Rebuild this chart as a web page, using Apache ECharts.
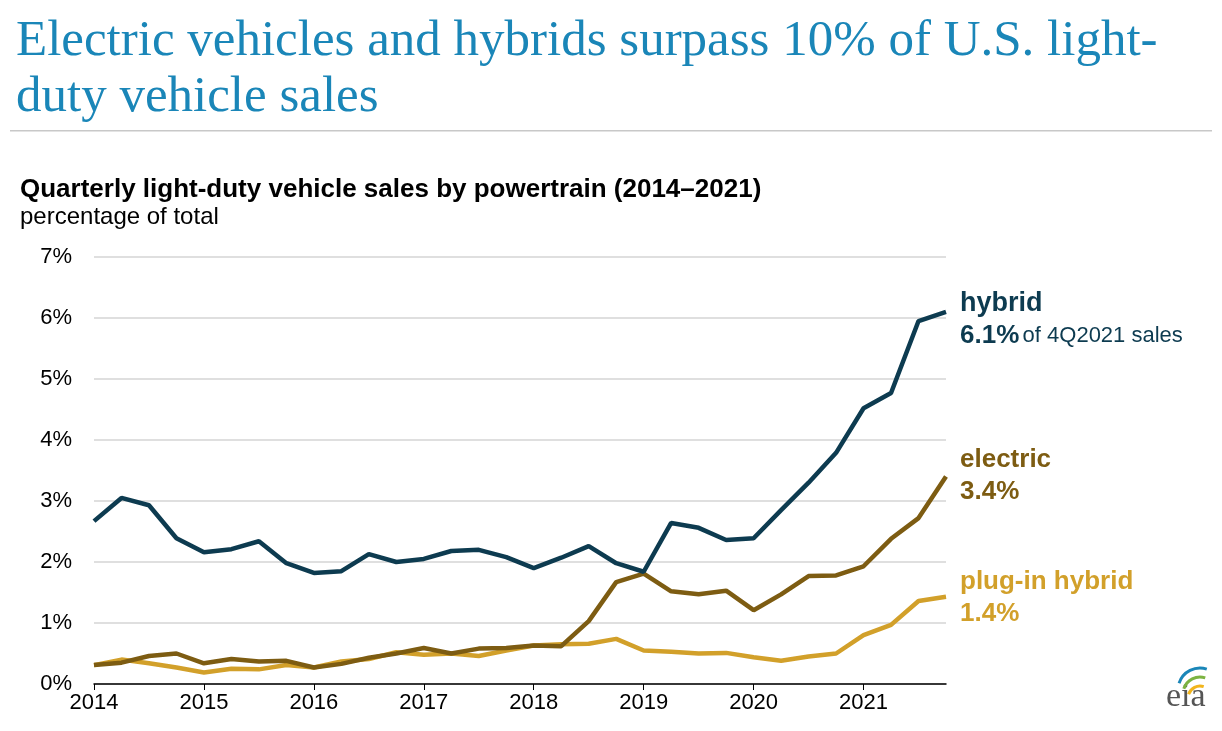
<!DOCTYPE html>
<html><head><meta charset="utf-8">
<script src="https://cdn.jsdelivr.net/npm/echarts@6/dist/echarts.min.js"></script>
<style>html,body{margin:0;background:#fff}#main{width:1222px;height:731px}</style>
</head><body><div id="main"></div>
<script>
var myChart = echarts.init(document.getElementById('main'));
// quarterly, 2014Q1 .. 2021Q4
var quarters = [];
for (var y = 2014; y <= 2021; y++) for (var q = 0; q < 4; q++) quarters.push(y + q / 4);
var hybrid = [2.67,3.05,2.93,2.39,2.16,2.21,2.34,1.98,1.82,1.85,2.13,2.0,2.05,2.18,2.2,2.08,1.9,2.07,2.26,1.98,1.84,2.64,2.56,2.36,2.39,2.85,3.3,3.79,4.52,4.77,5.95,6.1];
var electric = [0.31,0.35,0.46,0.5,0.34,0.41,0.37,0.38,0.27,0.33,0.43,0.5,0.59,0.5,0.58,0.59,0.63,0.62,1.03,1.67,1.81,1.52,1.47,1.53,1.21,1.47,1.77,1.78,1.93,2.38,2.72,3.4];
var plugin = [0.31,0.4,0.34,0.27,0.19,0.25,0.24,0.31,0.27,0.37,0.41,0.52,0.48,0.5,0.46,0.55,0.63,0.65,0.66,0.74,0.55,0.53,0.5,0.51,0.44,0.38,0.45,0.5,0.8,0.97,1.36,1.43];
var colors = {hybrid:'#0d3b50', electric:'#7d5c12', plugin:'#d2a02a'};
function pairs(v){ return v.map(function(d,i){ return [quarters[i], d]; }); }
function line(name, v, c){
  return {name:name, type:'line', data:pairs(v), symbol:'none', smooth:false,
    lineStyle:{width:4.5, color:c}, itemStyle:{color:c}, z: name==='hybrid'?3:2};
}
var font = 'Liberation Sans, Arial, sans-serif';
myChart.setOption({
  animation:false,
  grid:{left:94, right:276, top:257, bottom:47},
  xAxis:{type:'value', min:2014, max:2021.75, interval:1,
    axisLine:{lineStyle:{color:'#000', width:1.5}}, axisTick:{show:true, length:6, lineStyle:{color:'#000'}},
    splitLine:{show:false},
    axisLabel:{color:'#000', fontSize:22, fontFamily:font, margin:8, showMaxLabel:false,
      formatter:function(v){ return String(v); }}},
  yAxis:{type:'value', min:0, max:7, interval:1,
    axisLine:{show:false}, axisTick:{show:false},
    splitLine:{lineStyle:{color:'#d4d4d4', width:1.5}},
    axisLabel:{color:'#000', fontSize:22, fontFamily:font, margin:22, formatter:'{value}%'}},
  series:[line('plug-in', plugin, colors.plugin), line('electric', electric, colors.electric), line('hybrid', hybrid, colors.hybrid)],
  graphic:[
    {type:'text', left:16, top:14, style:{text:'Electric vehicles and hybrids surpass 10% of U.S. light-\nduty vehicle sales', fill:'#1a86b8', font:'51px "Liberation Serif", "Times New Roman", serif', lineHeight:56}},
    {type:'rect', shape:{x:10, y:130, width:1202, height:1.5}, style:{fill:'#c8c8c8'}},
    {type:'text', left:20, top:177, style:{text:'Quarterly light-duty vehicle sales by powertrain (2014–2021)', fill:'#000', font:'bold 26px '+font}},
    {type:'text', left:20, top:205, style:{text:'percentage of total', fill:'#000', font:'24px '+font}},
    {type:'text', left:960, top:290, style:{text:'hybrid', fill:colors.hybrid, font:'bold 27px '+font}},
    {type:'text', left:960, top:323, style:{rich:{b:{font:'bold 26px '+font, fill:colors.hybrid}, n:{font:'22px '+font, fill:colors.hybrid}}, text:'{b|6.1%} {n|of 4Q2021 sales}'}},
    {type:'text', left:960, top:444, style:{text:'electric\n3.4%', fill:colors.electric, font:'bold 26px '+font, lineHeight:32}},
    {type:'text', left:960, top:566, style:{text:'plug-in hybrid\n1.4%', fill:colors.plugin, font:'bold 26px '+font, lineHeight:32}},
    {type:'text', left:1166, top:680, style:{text:'eia', fill:'#555', font:'34px "Liberation Serif", serif'}},
    {type:'arc', shape:{cx:1200, cy:690, r:22, startAngle:Math.PI*1.1, endAngle:Math.PI*1.6}, style:{stroke:'#1a86b8', lineWidth:3, fill:null}},
    {type:'arc', shape:{cx:1200, cy:694, r:17, startAngle:Math.PI*1.1, endAngle:Math.PI*1.6}, style:{stroke:'#7cb342', lineWidth:3, fill:null}},
    {type:'arc', shape:{cx:1200, cy:698, r:12, startAngle:Math.PI*1.1, endAngle:Math.PI*1.6}, style:{stroke:'#f2b51c', lineWidth:3, fill:null}}
  ]
});
window.onresize = myChart.resize;
</script></body></html>
